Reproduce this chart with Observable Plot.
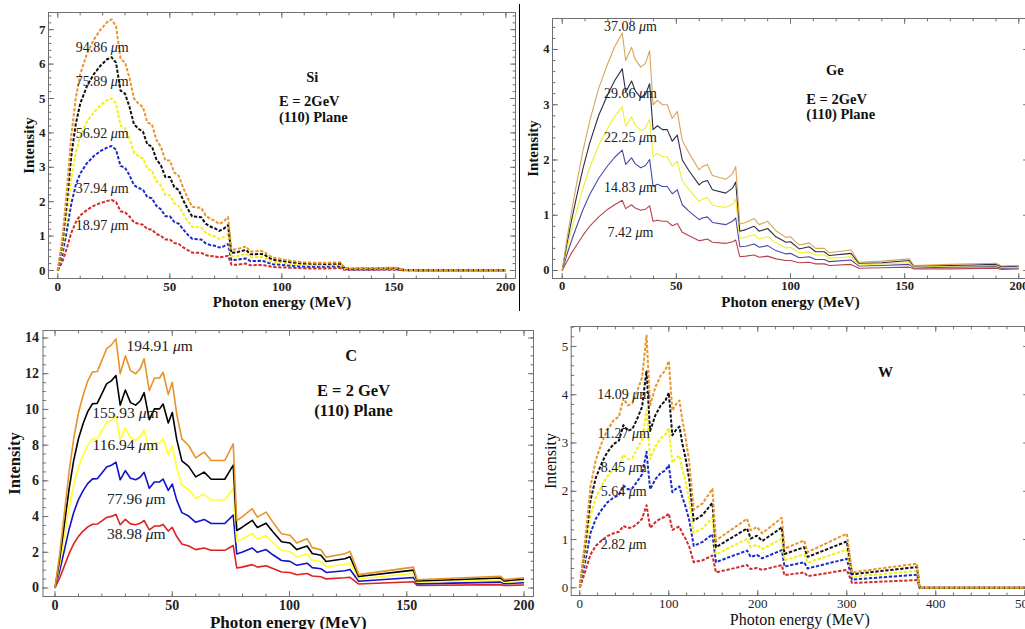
<!DOCTYPE html>
<html><head><meta charset="utf-8">
<script src="https://cdn.jsdelivr.net/npm/d3@7"></script>
<script src="https://cdn.jsdelivr.net/npm/@observablehq/plot@0.6"></script>
<style>
html,body{margin:0;padding:0;background:#fff;overflow:hidden}
#wrap{position:relative;width:1025px;height:629px;overflow:hidden;background:#fff}
.panel{position:absolute}
.panel svg{max-width:none !important;height:auto}
#sep{position:absolute;left:518.5px;top:4px;width:1.5px;height:307px;background:#000}
</style></head><body>
<div id="wrap"><div id="sep"></div></div>
<script>
// ---------------- Si ----------------
const siE = [0,2,4,6,8,10,13,16,19,22,24,26,28,30,32,34,36,38,40,42,44,46,48,50,52,54,56,58,60,64,66,68,70,72,74,76,77.5,80,84,86,90,92,94,96,100,104,108,112,120,126,128,130,140,150,152,154,160,200];
const siOrange = [0,0.9,2.3,3.9,5.0,5.7, 6.3,6.7,7.0,7.22,7.3,7.1,6.15,6.05, 5.6,5.0,4.85,4.75,4.3,4.25,3.8,3.6,3.2,3.2, 2.85,2.75,2.4,2.1,1.85, 1.82,1.6,1.5,1.45,1.35,1.42,1.55, 0.6,0.62,0.7,0.55,0.57,0.55,0.45,0.37, 0.33,0.28,0.25,0.23,0.22,0.24,0.08,0.06, 0.07,0.08,0.07,0.02,0.01,0.01];
const siBlack = [0,0.77,1.96,3.32,4.25,4.85, 5.36,5.7,5.95,6.14,6.2,6.04,5.23,5.14, 4.76,4.25,4.12,4.04,3.66,3.61,3.23,3.06,2.72,2.72, 2.42,2.34,2.04,1.79,1.57, 1.55,1.36,1.28,1.23,1.15,1.21,1.32, 0.51,0.53,0.6,0.47,0.48,0.47,0.38,0.31, 0.28,0.24,0.21,0.2,0.19,0.2,0.07,0.05, 0.06,0.07,0.06,0.02,0.01,0.01];
const siYellow = [0,0.62,1.58,2.67,3.43,3.9, 4.32,4.59,4.8,4.95,5.0,4.86,4.21,4.14, 3.84,3.43,3.32,3.25,2.95,2.91,2.6,2.47,2.19,2.19, 1.95,1.88,1.64,1.44,1.27, 1.25,1.1,1.03,0.99,0.92,0.97,1.06, 0.41,0.42,0.48,0.38,0.39,0.38,0.31,0.25, 0.23,0.19,0.17,0.16,0.15,0.16,0.05,0.04, 0.05,0.05,0.05,0.01,0.01,0.01];
const siBlue = [0,0.45,1.14,1.93,2.48,2.82, 3.12,3.32,3.47,3.57,3.62,3.51,3.04,2.99, 2.77,2.48,2.4,2.35,2.13,2.1,1.88,1.78,1.58,1.58, 1.41,1.36,1.19,1.04,0.92, 0.9,0.79,0.74,0.72,0.67,0.7,0.77, 0.3,0.31,0.35,0.27,0.28,0.27,0.22,0.18, 0.16,0.14,0.12,0.11,0.11,0.12,0.04,0.03, 0.03,0.04,0.03,0.01,0.005,0.005];
const siRed = [0,0.25,0.64,1.09,1.4,1.6, 1.76,1.88,1.96,2.02,2.05,1.99,1.72,1.69, 1.57,1.4,1.36,1.33,1.2,1.19,1.06,1.01,0.9,0.9, 0.8,0.77,0.67,0.59,0.52, 0.51,0.45,0.42,0.41,0.38,0.4,0.43, 0.17,0.17,0.2,0.15,0.16,0.15,0.13,0.1, 0.09,0.08,0.07,0.06,0.06,0.07,0.02,0.02, 0.02,0.02,0.02,0.005,0,0];
const siLabels = ["94.86 μm","75.89 μm","56.92 μm","37.94 μm","18.97 μm"];
const siLabelX = [19.8,19.8,19.8,19.8,19.8];
const siLabelY = [6.49,5.49,3.99,2.37,1.31];
const siNotes = ["Si","E = 2GeV","(110) Plane"];
const siNoteX = [113.6,98.7,98.7];
const siNoteY = [5.6,4.91,4.46];
const siNoteAnchor = ["middle","start","start"];
const siXTicks = [0,50,100,150,200];
const siYTicks = [0,1,2,3,4,5,6,7];

// ---------------- Ge ----------------
const geE = [0,2,4,6,9,12,16,20,23,26.3, 27.8,30.4,32,34.4,36.5,38.3,39.8,41.7,43.9,46, 48.2,50.4,52.6,55.6,60,61.4,63.6,65.8,71.6,74.6, 76,77.8,80.4,84.1,86.3,90,93.6,98,100,103.8, 108.2,111,114.8,117,126.5,130,140,152,154,170, 190,192.5,200];
const geOrange = [0,0.55,1.05,1.5,2.15,2.7,3.3,3.75,4.05,4.3, 3.8,4.04,3.82,3.68,3.75,3.98,3.0,3.08,3.0,3.0, 2.75,2.88,2.35,2.12,1.82,1.88,1.92,1.72,1.65,1.75, 1.88,0.84,0.87,0.94,0.83,0.89,0.72,0.6,0.61,0.46, 0.5,0.4,0.4,0.32,0.37,0.15,0.17,0.21,0.09,0.11, 0.13,0.08,0.09];
const geBlack = [0,0.47,0.89,1.28,1.83,2.3,2.81,3.19,3.44,3.65, 3.23,3.43,3.25,3.13,3.19,3.38,2.55,2.62,2.55,2.55, 2.34,2.45,2.0,1.8,1.55,1.6,1.63,1.46,1.4,1.49, 1.6,0.71,0.74,0.8,0.71,0.76,0.61,0.51,0.52,0.39, 0.43,0.34,0.34,0.27,0.31,0.13,0.14,0.18,0.08,0.09, 0.11,0.07,0.08];
const geYellow = [0,0.38,0.72,1.03,1.48,1.86,2.27,2.58,2.79,2.96, 2.61,2.78,2.63,2.53,2.58,2.74,2.06,2.12,2.06,2.06, 1.89,1.98,1.62,1.46,1.25,1.29,1.32,1.18,1.14,1.2, 1.29,0.58,0.6,0.65,0.57,0.61,0.5,0.41,0.42,0.32, 0.34,0.28,0.28,0.22,0.25,0.1,0.12,0.14,0.06,0.08, 0.09,0.06,0.06];
const geBlue = [0,0.28,0.53,0.76,1.09,1.37,1.67,1.9,2.05,2.18, 1.92,2.04,1.93,1.86,1.9,2.01,1.52,1.56,1.52,1.52, 1.39,1.46,1.19,1.07,0.92,0.95,0.97,0.87,0.83,0.89, 0.95,0.43,0.44,0.48,0.42,0.45,0.36,0.3,0.31,0.23, 0.25,0.2,0.2,0.16,0.19,0.08,0.09,0.11,0.05,0.06, 0.07,0.04,0.05];
const geRed = [0,0.16,0.31,0.44,0.63,0.8,0.97,1.11,1.19,1.27, 1.12,1.19,1.13,1.09,1.11,1.17,0.89,0.91,0.89,0.89, 0.81,0.85,0.69,0.63,0.54,0.55,0.57,0.51,0.49,0.52, 0.55,0.25,0.26,0.28,0.24,0.26,0.21,0.18,0.18,0.14, 0.15,0.12,0.12,0.09,0.11,0.04,0.05,0.06,0.03,0.03, 0.04,0.02,0.03];
const geLabels = ["37.08 μm","29.66 μm","22.25 μm","14.83 μm","7.42 μm"];
const geLabelX = [29.9,29.9,29.9,29.9,29.9];
const geLabelY = [4.42,3.21,2.4,1.51,0.69];
const geNotes = ["Ge","E = 2GeV","(110) Plane"];
const geNoteX = [119.4,106.9,106.9];
const geNoteY = [3.62,3.09,2.82];
const geNoteAnchor = ["middle","start","start"];
const geXTicks = [0,50,100,150,200];
const geYTicks = [0,1,2,3,4];

// ---------------- C ----------------
const cE = [0,2,4,6,8,10,12,14,16,18, 20,22,24,26,27.8,30,32.2,34.4,36.3,38, 40.2,42.4,44.6,46.1,48.3,50,51.9,54.1,57,60, 63.6,66.6,72.4,76,77.5,79.7,84.1,86.3,90,92.9, 96.6,100.2,103.1,107.5,109.7,113.4,115.6,123.6,125.8,129.5, 152.9,154.4,190,191.5,200];
const cOrange = [0,1.9,4.2,6.5,8.4,9.8,10.8,11.6,12.1,12.12, 12.75,13.4,13.6,13.95,12.0,13.0,12.17,12.0,12.27,12.83, 11.05,11.76,11.76,12.08,10.83,11.52,9.75,8.35,7.98,7.29, 7.61,7.14,7.14,8.07,3.78,3.97,4.44,3.97,4.25,3.69, 3.04,2.95,2.52,2.76,2.26,2.14,1.73,1.92,2.05,0.75, 1.17,0.46,0.66,0.47,0.57];
const cBlack = [0,1.62,3.58,5.54,7.17,8.36,9.21,9.89,10.32,10.34, 10.88,11.43,11.6,11.9,10.24,11.09,10.38,10.24,10.47,10.94, 9.43,10.03,10.03,10.3,9.24,9.83,8.32,7.12,6.81,6.22, 6.49,6.09,6.09,6.88,3.22,3.39,3.79,3.39,3.63,3.15, 2.59,2.52,2.15,2.35,1.93,1.83,1.48,1.64,1.75,0.64, 1.0,0.39,0.56,0.4,0.49];
const cYellow = [0,1.31,2.9,4.49,5.8,6.76,7.45,8.0,8.35,8.36, 8.8,9.25,9.38,9.63,8.28,8.97,8.4,8.28,8.47,8.85, 7.62,8.11,8.11,8.34,7.47,7.95,6.73,5.76,5.51,5.03, 5.25,4.93,4.93,5.57,2.61,2.74,3.06,2.74,2.93,2.55, 2.1,2.04,1.74,1.9,1.56,1.48,1.19,1.32,1.41,0.52, 0.81,0.32,0.46,0.32,0.39];
const cBlue = [0,0.96,2.12,3.28,4.24,4.95,5.45,5.86,6.11,6.12, 6.44,6.77,6.87,7.04,6.06,6.57,6.15,6.06,6.2,6.48, 5.58,5.94,5.94,6.1,5.47,5.82,4.92,4.22,4.03,3.68, 3.84,3.61,3.61,4.08,1.91,2.0,2.24,2.0,2.15,1.86, 1.54,1.49,1.27,1.39,1.14,1.08,0.87,0.97,1.04,0.38, 0.59,0.23,0.33,0.24,0.29];
const cRed = [0,0.56,1.24,1.92,2.48,2.89,3.19,3.42,3.57,3.58, 3.76,3.95,4.01,4.12,3.54,3.84,3.59,3.54,3.62,3.78, 3.26,3.47,3.47,3.56,3.19,3.4,2.88,2.46,2.35,2.15, 2.24,2.11,2.11,2.38,1.12,1.17,1.31,1.17,1.25,1.09, 0.9,0.87,0.74,0.81,0.67,0.63,0.51,0.57,0.6,0.22, 0.35,0.14,0.19,0.14,0.17];
const cLabels = ["194.91 μm","155.93 μm","116.94 μm","77.96 μm","38.98 μm"];
const cLabelX = [44.6,30,30,34.7,34.7];
const cLabelY = [13.57,9.79,8.03,5.0,3.04];
const cNotes = ["C","E = 2 GeV","(110) Plane"];
const cNoteX = [126.3,127.3,127.3];
const cNoteY = [13.0,11.02,9.94];
const cNoteAnchor = ["middle","middle","middle"];
const cXTicks = [0,50,100,150,200];
const cYTicks = [0,2,4,6,8,10,12,14];

// ---------------- W ----------------
const wE = [0,6,12,18,25,31,38,44,49,54, 59,64,70,75,79,85,91,96,100,104, 108,112,115,119,123,128,138,149,153,170, 188,192,199,205,227,230,252,256,300,306, 379,382,500];
const wOrange = [0,1.0,2.1,2.65,3.02,3.27,3.47,3.55,3.92,3.78, 3.82,4.05,4.36,5.23,3.78,4.16,4.4,4.5,4.7,3.67, 3.8,3.88,3.5,3.1,2.6,1.62,1.75,2.05,0.98,1.2, 1.43,1.19,1.26,1.13,1.45,0.81,0.98,0.74,1.12,0.32, 0.5,0,0];
const wBlack = [0,0.86,1.81,2.28,2.6,2.81,2.98,3.05,3.37,3.25, 3.29,3.48,3.75,4.5,3.25,3.58,3.78,3.87,4.04,3.16, 3.27,3.34,3.01,2.67,2.24,1.39,1.51,1.76,0.84,1.03, 1.23,1.02,1.08,0.97,1.25,0.7,0.84,0.64,0.96,0.28, 0.43,0,0];
const wYellow = [0,0.71,1.48,1.87,2.13,2.31,2.45,2.5,2.76,2.66, 2.69,2.86,3.07,3.69,2.66,2.93,3.1,3.17,3.31,2.59, 2.68,2.74,2.47,2.19,1.83,1.14,1.23,1.45,0.69,0.85, 1.01,0.84,0.89,0.8,1.02,0.57,0.69,0.52,0.79,0.23, 0.35,0,0];
const wBlue = [0,0.54,1.13,1.43,1.63,1.77,1.87,1.92,2.12,2.04, 2.06,2.19,2.35,2.82,2.04,2.25,2.38,2.43,2.54,1.98, 2.05,2.1,1.89,1.67,1.4,0.87,0.95,1.11,0.53,0.65, 0.77,0.64,0.68,0.61,0.78,0.44,0.53,0.4,0.6,0.17, 0.27,0,0];
const wRed = [0,0.33,0.69,0.87,0.99,1.07,1.13,1.16,1.28,1.24, 1.25,1.32,1.43,1.71,1.24,1.36,1.44,1.47,1.54,1.2, 1.24,1.27,1.14,1.01,0.85,0.53,0.57,0.67,0.32,0.39, 0.47,0.39,0.41,0.37,0.47,0.26,0.32,0.24,0.37,0.1, 0.16,0,0];
const wLabels = ["14.09 μm","11.27 μm","8.45 μm","5.64 μm","2.82 μm"];
const wLabelX = [49.4,49.4,49.4,49.4,49.4];
const wLabelY = [4.0,3.19,2.5,2.0,0.9];
const wNotes = ["W"];
const wNoteX = [343.4];
const wNoteY = [4.47];
const wNoteAnchor = ["middle"];
const wXTicks = [0,100,200,300,400,500];
const wYTicks = [0,1,2,3,4,5];

// ---------------- drawing ----------------
const FRAME = "#707070";
const SERIF = "'Liberation Serif','DejaVu Serif',serif";
const tickShape = {draw(c, l) { c.moveTo(0, 0); c.lineTo(0, -l); }};

function frameTicks(xMaj, xMin, yMaj, yMin) {
  const o = {shape: tickShape, stroke: FRAME, strokeWidth: 1, anchor: "start"};
  const m = [];
  for (const [vals, len] of [[xMaj, 5], [xMin, 2.5]]) {
    m.push(Plot.vector(vals, {...o, x: d => d, frameAnchor: "bottom", length: len, rotate: 0}));
    m.push(Plot.vector(vals, {...o, x: d => d, frameAnchor: "top", length: len, rotate: 180}));
  }
  for (const [vals, len] of [[yMaj, 5], [yMin, 2.5]]) {
    m.push(Plot.vector(vals, {...o, y: d => d, frameAnchor: "left", length: len, rotate: 90}));
    m.push(Plot.vector(vals, {...o, y: d => d, frameAnchor: "right", length: len, rotate: -90}));
  }
  return m;
}

function italicMu(svg) {
  svg.querySelectorAll("text").forEach(t => {
    const s = t.textContent;
    if (!s.includes("μ") || t.querySelector("tspan")) return;
    const [a, b] = s.split("μ");
    t.textContent = "";
    t.append(document.createTextNode(a));
    const sp = document.createElementNS("http://www.w3.org/2000/svg", "tspan");
    sp.setAttribute("font-style", "italic");
    sp.textContent = "μ";
    t.append(sp, document.createTextNode(b));
  });
}

function range(a, b, s) { const r = []; for (let v = a; v <= b + 1e-9; v += s) r.push(+v.toFixed(4)); return r; }

const SI_COLORS = ["#e8952c", "#111111", "#f4f010", "#1c2cc8", "#d22a2a"];
const GE_COLORS = ["#d9a45a", "#2c2c46", "#f0ee30", "#4848a6", "#b8404e"];
const C_COLORS  = ["#e8922a", "#000000", "#ffff2a", "#1212c8", "#e02020"];

function build(c) {
  const groups = ["start", "middle"].map(a => {
    const idx = c.noteAnchor.map((v, i) => v === a ? i : -1).filter(i => i >= 0);
    return {a, t: idx.map(i => c.notes[i]), x: idx.map(i => c.noteX[i]), y: idx.map(i => c.noteY[i])};
  }).filter(g => g.t.length);
  const lines = c.series.map((vals, k) => ({rows: c.E.map((e, i) => ({E: e, I: vals[i]})), color: c.colors[k]})).reverse();
  const weight = c.bold ? "bold" : "normal";
  const svg = Plot.plot({
    width: c.width, height: c.height,
    marginLeft: c.m[0], marginRight: c.m[1], marginTop: c.m[2], marginBottom: c.m[3],
    x: {domain: c.xDomain, label: null},
    y: {domain: c.yDomain, label: null},
    style: {fontFamily: SERIF, background: "transparent", overflow: "visible", color: "#222", maxWidth: "none"},
    marks: [
      ...lines.map(L => Plot.line(L.rows, {x: "E", y: "I", stroke: L.color, strokeWidth: c.sw,
        strokeDasharray: c.dash, strokeLinecap: "butt", strokeLinejoin: "round"})),
      ...frameTicks(c.xTicks, c.xMinor, c.yTicks, c.yMinor),
      Plot.frame({stroke: FRAME, strokeWidth: 1}),
      Plot.axisX(c.xTicks, {tickSize: 0, tickPadding: c.xPad, fontSize: c.tickFs, fontWeight: weight, fill: "#222", label: null, tickFormat: d => String(d)}),
      Plot.axisY(c.yTicks, {tickSize: 0, tickPadding: c.yPad, fontSize: c.tickFs, fontWeight: weight, fill: "#222", label: null, tickFormat: d => String(d)}),
      Plot.text(c.labels, {x: (d, i) => c.labelX[i], y: (d, i) => c.labelY[i], text: d => d,
        fontSize: c.labelFs, fontWeight: "normal", fill: "#222"}),
      ...groups.map(g => Plot.text(g.t, {x: (d, i) => g.x[i], y: (d, i) => g.y[i], text: d => d,
        textAnchor: g.a, fontSize: c.noteFs, fontWeight: "bold", fill: "#111"})),
      Plot.text(["Photon energy (MeV)"], {frameAnchor: "bottom", dy: c.xLabDy, lineAnchor: "middle", textAnchor: "middle",
        text: d => d, fontSize: c.axisFs, fontWeight: weight, fill: "#111"}),
      Plot.text(["Intensity"], {frameAnchor: "left", dx: c.yLabDx, rotate: -90, lineAnchor: "middle", textAnchor: "middle",
        text: d => d, fontSize: c.yAxisFs || c.axisFs, fontWeight: weight, fill: "#111"})
    ]
  });
  svg.style.maxWidth = "none";
  svg.setAttribute("width", c.width);
  svg.setAttribute("height", c.height);
  italicMu(svg);
  const div = document.createElement("div");
  div.className = "panel";
  div.style.left = c.left + "px";
  div.style.top = c.top + "px";
  div.style.width = c.width + "px";
  div.style.height = c.height + "px";
  div.appendChild(svg);
  document.getElementById("wrap").appendChild(div);
}

build({
  left: 0, top: 0, width: 520, height: 312, m: [48, 5, 12, 34],
  xDomain: [-4.15, 204.3], yDomain: [-0.233, 7.5],
  E: siE, series: [siOrange, siBlack, siYellow, siBlue, siRed], colors: SI_COLORS,
  sw: 2, dash: "3.3,1.7", bold: true,
  xTicks: siXTicks, xMinor: range(0, 200, 10), yTicks: siYTicks, yMinor: range(0, 7.4, 0.2),
  xPad: 3, yPad: 3, tickFs: 13,
  labels: siLabels, labelX: siLabelX, labelY: siLabelY, labelFs: 14,
  notes: siNotes, noteX: siNoteX, noteY: siNoteY, noteAnchor: siNoteAnchor, noteFs: 14.5,
  xLabDy: 23.7, yLabDx: -19, axisFs: 15
});
build({
  left: 520, top: 0, width: 520, height: 312, m: [32, 12, 18, 34],
  xDomain: [-4.25, 204.25], yDomain: [-0.145, 4.561],
  E: geE, series: [geOrange, geBlack, geYellow, geBlue, geRed], colors: GE_COLORS,
  sw: 1.1, dash: null, bold: true,
  xTicks: geXTicks, xMinor: range(0, 200, 10), yTicks: geYTicks, yMinor: range(0, 4.4, 0.2),
  xPad: 3, yPad: 3, tickFs: 12.5,
  labels: geLabels, labelX: geLabelX, labelY: geLabelY, labelFs: 14,
  notes: geNotes, noteX: geNoteX, noteY: geNoteY, noteAnchor: geNoteAnchor, noteFs: 14.5,
  xLabDy: 23.7, yLabDx: -19.7, axisFs: 15
});
build({
  left: 0, top: 315, width: 540, height: 314, m: [42.5, 7, 15, 33],
  xDomain: [-5.12, 204.05], yDomain: [-0.476, 14.42],
  E: cE, series: [cOrange, cBlack, cYellow, cBlue, cRed], colors: C_COLORS,
  sw: 1.6, dash: null, bold: true,
  xTicks: cXTicks, xMinor: range(0, 200, 10), yTicks: cYTicks, yMinor: range(0, 14, 0.5),
  xPad: 4, yPad: 4, tickFs: 14,
  labels: cLabels, labelX: cLabelX, labelY: cLabelY, labelFs: 15.5,
  notes: cNotes, noteX: cNoteX, noteY: cNoteY, noteAnchor: cNoteAnchor, noteFs: 16.5,
  xLabDy: 25.7, yLabDx: -28.7, axisFs: 17, yAxisFs: 16.5
});
build({
  left: 540, top: 315, width: 500, height: 314, m: [30.7, 12, 11, 34],
  xDomain: [-9.66, 504.2], yDomain: [-0.16, 5.414],
  E: wE, series: [wOrange, wBlack, wYellow, wBlue, wRed], colors: SI_COLORS,
  sw: 2, dash: "3.3,1.7", bold: false,
  xTicks: wXTicks, xMinor: range(0, 500, 20), yTicks: wYTicks, yMinor: range(0, 5.4, 0.2),
  xPad: 3, yPad: 3, tickFs: 13,
  labels: wLabels, labelX: wLabelX, labelY: wLabelY, labelFs: 14,
  notes: wNotes, noteX: wNoteX, noteY: wNoteY, noteAnchor: wNoteAnchor, noteFs: 15,
  xLabDy: 24, yLabDx: -20, axisFs: 16
});
</script>
</body></html>
